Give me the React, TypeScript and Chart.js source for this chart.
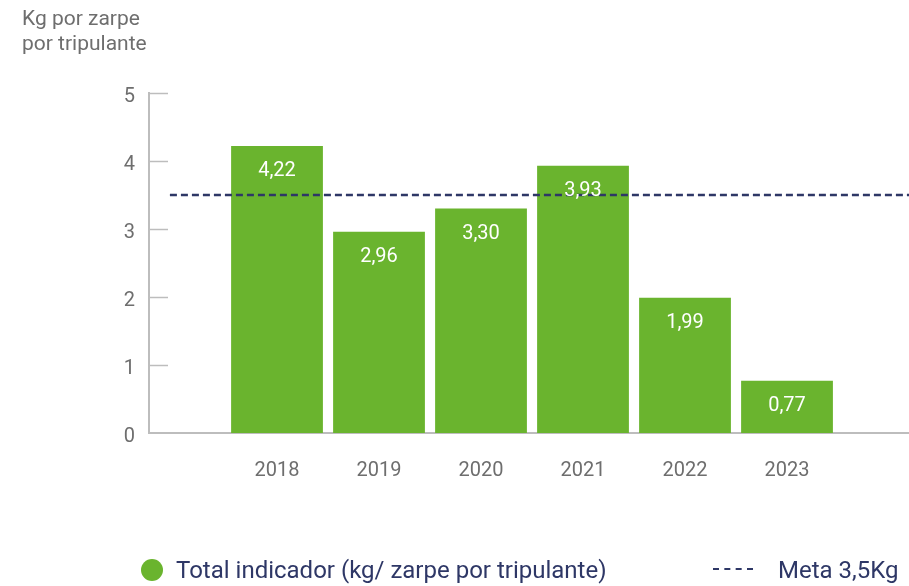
import React, { useEffect, useRef } from "react";
import { Chart, registerables } from "chart.js";

Chart.register(...registerables);

const yearLabels = ["2018", "2019", "2020", "2021", "2022", "2023"];
const totalValues = [4.22, 2.96, 3.3, 3.93, 1.99, 0.77];
const metaValue = 3.5;
const metaRangeX = [-1.05, 6.196];
const xRange = [-1.255, 6.196];
const yTicks = [0, 1, 2, 3, 4, 5];

const GREEN = "#6AB42E";
const NAVY = "#2E3766";
const GRAY = "#6E6E6E";
const AXIS = "#BDBDBD";
const FONT = "Roboto, 'Noto Sans', sans-serif";

const fmt = (v: number) => v.toFixed(2).replace(".", ",");

const innerTicks = {
  id: "innerTicks",
  afterDraw(chart: any) {
    const { ctx, chartArea } = chart;
    const y = chart.scales.y;
    ctx.save();
    ctx.strokeStyle = AXIS;
    ctx.lineWidth = 1.5;
    y.ticks.forEach((t: any) => {
      if (t.value === 0) return;
      const py = Math.round(y.getPixelForValue(t.value)) + 0.5;
      ctx.beginPath();
      ctx.moveTo(chartArea.left, py);
      ctx.lineTo(chartArea.left + 19, py);
      ctx.stroke();
    });
    ctx.restore();
  },
};

const barLabels = {
  id: "barLabels",
  afterDatasetsDraw(chart: any) {
    const { ctx } = chart;
    const meta = chart.getDatasetMeta(0);
    ctx.save();
    ctx.fillStyle = "#FFFFFF";
    ctx.font = `20px ${FONT}`;
    ctx.textAlign = "center";
    ctx.textBaseline = "middle";
    meta.data.forEach((el: any, i: number) => {
      ctx.fillText(fmt(totalValues[i]), el.x, el.y + 25);
    });
    ctx.restore();
  },
};

export default function App() {
  const ref = useRef<HTMLCanvasElement>(null);

  useEffect(() => {
    document.body.style.margin = "0";
    if (!ref.current) return;
    const chart = new Chart(ref.current, {
      type: "bar",
      data: {
        datasets: [
          {
            type: "bar",
            label: "Total indicador (kg/ zarpe por tripulante)",
            data: totalValues.map((v, i) => ({ x: i, y: v })),
            backgroundColor: GREEN,
            barPercentage: 0.9,
            categoryPercentage: 1,
            order: 1,
          } as any,
          {
            type: "line",
            label: "Meta 3,5Kg",
            data: metaRangeX.map((x) => ({ x, y: metaValue })),
            borderColor: NAVY,
            borderWidth: 2.5,
            borderDash: [7, 4],
            pointRadius: 0,
            fill: false,
            order: 0,
          } as any,
        ],
      },
      options: {
        animation: false,
        responsive: false,
        maintainAspectRatio: false,
        layout: { padding: { top: 93, right: 0, bottom: 0, left: 0 } },
        plugins: {
          legend: { display: false },
          tooltip: { enabled: false },
          title: { display: false },
        },
        scales: {
          x: {
            type: "linear",
            offset: false,
            min: xRange[0],
            max: xRange[1],
            grid: { display: false, drawTicks: false, offset: false },
            border: { display: true, color: AXIS, width: 2 },
            afterBuildTicks: (scale: any) => {
              scale.ticks = yearLabels.map((_, i) => ({ value: i }));
            },
            afterFit: (scale: any) => {
              scale.height = 153;
            },
            ticks: {
              autoSkip: false,
              maxRotation: 0,
              padding: 26,
              color: GRAY,
              font: { family: FONT, size: 20 },
              callback: (v: any) => yearLabels[v] ?? "",
            },
          },
          y: {
            min: 0,
            max: 5,
            grid: { display: false, drawTicks: false },
            border: { display: true, color: AXIS, width: 2 },
            afterBuildTicks: (scale: any) => {
              scale.ticks = yTicks.map((v) => ({ value: v }));
            },
            afterFit: (scale: any) => {
              scale.width = 149;
            },
            ticks: {
              padding: 14,
              labelOffset: 4,
              color: GRAY,
              font: { family: FONT, size: 20 },
            },
          },
        },
      } as any,
      plugins: [innerTicks, barLabels],
    });
    return () => chart.destroy();
  }, []);

  return (
    <div style={{ position: "relative", width: 909, height: 586, fontFamily: FONT, background: "#fff" }}>
      <canvas ref={ref} width={909} height={586} style={{ position: "absolute", left: 0, top: 0 }} />
      <div
        style={{
          position: "absolute",
          left: 22,
          top: 6,
          color: GRAY,
          fontSize: 21,
          lineHeight: "25px",
        }}
      >
        Kg por zarpe
        <br />
        por tripulante
      </div>
      <div
        style={{
          position: "absolute",
          left: 141,
          top: 559,
          width: 22,
          height: 22,
          borderRadius: "50%",
          background: GREEN,
        }}
      />
      <div
        style={{
          position: "absolute",
          left: 176,
          top: 555,
          color: NAVY,
          fontSize: 24,
          lineHeight: "30px",
          whiteSpace: "nowrap",
        }}
      >
        Total indicador (kg/ zarpe por tripulante)
      </div>
      <div
        style={{
          position: "absolute",
          left: 713,
          top: 568,
          width: 40,
          height: 0,
          borderTop: `2.5px dashed ${NAVY}`,
        }}
      />
      <div
        style={{
          position: "absolute",
          left: 778,
          top: 555,
          color: NAVY,
          fontSize: 24,
          lineHeight: "30px",
          whiteSpace: "nowrap",
        }}
      >
        Meta 3,5Kg
      </div>
    </div>
  );
}
